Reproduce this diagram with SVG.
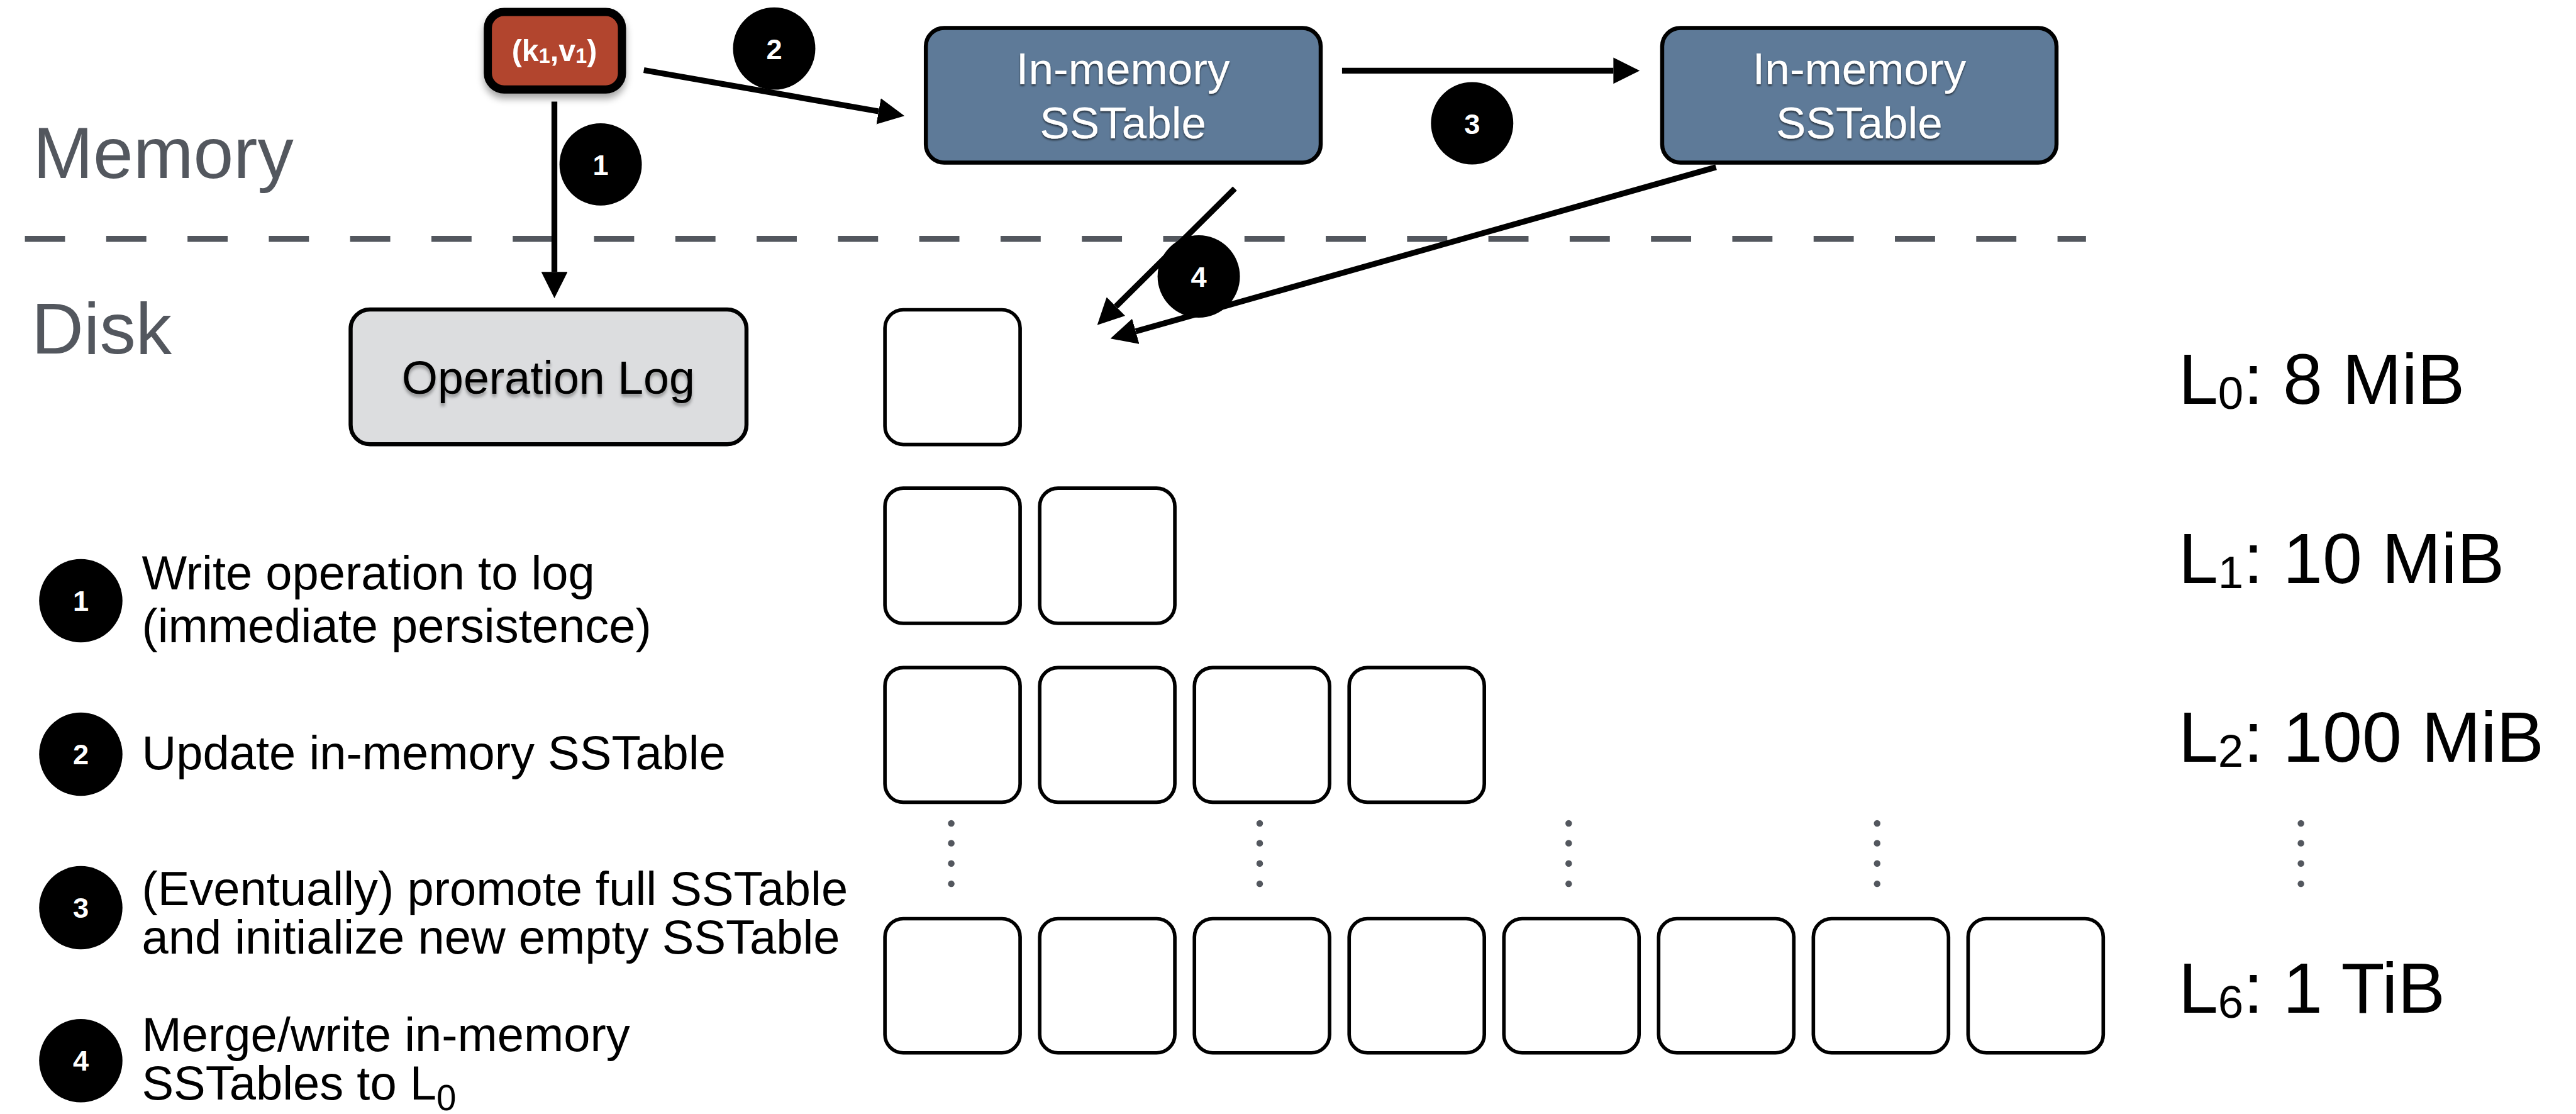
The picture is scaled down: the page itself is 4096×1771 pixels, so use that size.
<svg xmlns="http://www.w3.org/2000/svg" width="4096" height="1771" viewBox="0 0 4096 1771">
<defs>
<style>
text{font-family:"Liberation Sans",Arial,Helvetica,sans-serif}
.side{fill:#53575e;font-size:142px}
.leg{fill:#000;font-size:94px}
.lvl{fill:#000;font-size:140px}
.badge{fill:#000}
.num{fill:#fff;font-size:56px;font-weight:bold;text-anchor:middle}
.lbox{fill:#fff;stroke:#000;stroke-width:7}
.conn{stroke:#000;stroke-width:11.5;fill:none}
.dot{fill:#53575e}
.sst{fill:#5e7a98;stroke:#000;stroke-width:8}
.ssttxt{fill:#fff;font-size:88px;text-anchor:middle}
</style>
<marker id="ah" viewBox="0 0 10 10" refX="0" refY="5" markerWidth="4.5" markerHeight="4.5" markerUnits="strokeWidth" orient="auto">
<path d="M0,0 L10,5 L0,10 Z" fill="#000"/>
</marker>
<filter id="boxShadow" x="-20%" y="-20%" width="140%" height="160%">
<feDropShadow dx="0" dy="10" stdDeviation="7" flood-color="#000" flood-opacity="0.35"/>
</filter>
<filter id="txtShadowDark" x="-10%" y="-20%" width="120%" height="150%">
<feDropShadow dx="0" dy="3" stdDeviation="2" flood-color="#000" flood-opacity="0.6"/>
</filter>
<filter id="txtShadowGray" x="-10%" y="-20%" width="120%" height="150%">
<feDropShadow dx="0" dy="6" stdDeviation="3" flood-color="#000" flood-opacity="0.35"/>
</filter>
</defs>
<rect x="0" y="0" width="4096" height="1771" fill="#fff"/>
<g transform="scale(0.808)">

<g id="section-labels">
<text class="side" x="65" y="350">Memory</text>
<text class="side" x="62" y="696">Disk</text>
<line x1="49" y1="470" x2="4105" y2="470" stroke="#53575e" stroke-width="12" stroke-dasharray="79 81"/>
</g>

<g id="connectors">
<line class="conn" x1="1091" y1="200" x2="1091" y2="535" marker-end="url(#ah)"/>
<line class="conn" x1="1267" y1="138" x2="1729" y2="219" marker-end="url(#ah)"/>
<line class="conn" x1="2641" y1="139" x2="3175" y2="139" marker-end="url(#ah)"/>
<line class="conn" x1="2430" y1="371" x2="2196" y2="603" marker-end="url(#ah)"/>
<line class="conn" x1="3377" y1="329" x2="2235" y2="652" marker-end="url(#ah)"/>
</g>

<g id="node-kv">
<rect x="960" y="23.5" width="264" height="152.5" rx="32" fill="#b2452f" stroke="#000" stroke-width="16" filter="url(#boxShadow)"/>
<text x="1091" y="120" fill="#fff" font-size="60" font-weight="bold" text-anchor="middle">(k<tspan font-size="40" dy="4">1</tspan><tspan dy="-4">,v</tspan><tspan font-size="40" dy="4">1</tspan><tspan dy="-4">)</tspan></text>
</g>

<g id="node-sstable1">
<rect class="sst" x="1822" y="55" width="777" height="265" rx="36"/>
<text class="ssttxt" x="2210" y="166" filter="url(#txtShadowDark)">In-memory</text>
<text class="ssttxt" x="2210" y="272" filter="url(#txtShadowDark)">SSTable</text>
</g>

<g id="node-sstable2">
<rect class="sst" x="3271" y="55" width="776" height="265" rx="36"/>
<text class="ssttxt" x="3659" y="166" filter="url(#txtShadowDark)">In-memory</text>
<text class="ssttxt" x="3659" y="272" filter="url(#txtShadowDark)">SSTable</text>
</g>

<g id="node-oplog">
<rect x="690" y="609" width="779" height="265" rx="38" fill="#dcdddf" stroke="#000" stroke-width="8"/>
<text x="1079" y="775" fill="#000" font-size="91" text-anchor="middle" filter="url(#txtShadowGray)">Operation Log</text>
</g>

<g id="badge-1"><circle class="badge" cx="1182" cy="323.5" r="81"/><text class="num" x="1182" y="344">1</text></g>
<g id="badge-2"><circle class="badge" cx="1523.5" cy="95.5" r="81"/><text class="num" x="1523.5" y="116">2</text></g>
<g id="badge-3"><circle class="badge" cx="2897" cy="242.5" r="81"/><text class="num" x="2897" y="263">3</text></g>
<g id="badge-4"><circle class="badge" cx="2359" cy="544" r="81"/><text class="num" x="2359" y="564">4</text></g>

<g id="level-0">
<rect class="lbox" x="1741.5" y="609.5" width="266" height="265" rx="36"/>
</g>
<g id="level-1">
<rect class="lbox" x="1741.5" y="960.5" width="266" height="266" rx="36"/>
<rect class="lbox" x="2046" y="960.5" width="266" height="266" rx="36"/>
</g>
<g id="level-2">
<rect class="lbox" x="1741.5" y="1313.5" width="266" height="265" rx="36"/>
<rect class="lbox" x="2046" y="1313.5" width="266" height="265" rx="36"/>
<rect class="lbox" x="2350.5" y="1313.5" width="266" height="265" rx="36"/>
<rect class="lbox" x="2655" y="1313.5" width="266" height="265" rx="36"/>
</g>
<g id="level-dots">
<circle class="dot" cx="1872" cy="1620" r="6.5"/><circle class="dot" cx="1872" cy="1659" r="6.5"/><circle class="dot" cx="1872" cy="1699" r="6.5"/><circle class="dot" cx="1872" cy="1739" r="6.5"/>
<circle class="dot" cx="2479" cy="1620" r="6.5"/><circle class="dot" cx="2479" cy="1659" r="6.5"/><circle class="dot" cx="2479" cy="1699" r="6.5"/><circle class="dot" cx="2479" cy="1739" r="6.5"/>
<circle class="dot" cx="3087" cy="1620" r="6.5"/><circle class="dot" cx="3087" cy="1659" r="6.5"/><circle class="dot" cx="3087" cy="1699" r="6.5"/><circle class="dot" cx="3087" cy="1739" r="6.5"/>
<circle class="dot" cx="3694" cy="1620" r="6.5"/><circle class="dot" cx="3694" cy="1659" r="6.5"/><circle class="dot" cx="3694" cy="1699" r="6.5"/><circle class="dot" cx="3694" cy="1739" r="6.5"/>
<circle class="dot" cx="4528" cy="1620" r="6.5"/><circle class="dot" cx="4528" cy="1659" r="6.5"/><circle class="dot" cx="4528" cy="1699" r="6.5"/><circle class="dot" cx="4528" cy="1739" r="6.5"/>
</g>
<g id="level-6">
<rect class="lbox" x="1741.5" y="1807.5" width="266" height="264" rx="36"/>
<rect class="lbox" x="2046" y="1807.5" width="266" height="264" rx="36"/>
<rect class="lbox" x="2350.5" y="1807.5" width="266" height="264" rx="36"/>
<rect class="lbox" x="2655" y="1807.5" width="266" height="264" rx="36"/>
<rect class="lbox" x="2959.5" y="1807.5" width="266" height="264" rx="36"/>
<rect class="lbox" x="3264" y="1807.5" width="266" height="264" rx="36"/>
<rect class="lbox" x="3568.5" y="1807.5" width="266" height="264" rx="36"/>
<rect class="lbox" x="3873" y="1807.5" width="266" height="264" rx="36"/>
</g>

<g id="level-labels">
<text class="lvl" x="4287" y="794">L<tspan font-size="90" dy="10">0</tspan><tspan dy="-10">: 8 MiB</tspan></text>
<text class="lvl" x="4287" y="1147">L<tspan font-size="90" dy="10">1</tspan><tspan dy="-10">: 10 MiB</tspan></text>
<text class="lvl" x="4287" y="1499">L<tspan font-size="90" dy="10">2</tspan><tspan dy="-10">: 100 MiB</tspan></text>
<text class="lvl" x="4287" y="1992">L<tspan font-size="90" dy="10">6</tspan><tspan dy="-10">: 1 TiB</tspan></text>
</g>

<g id="legend-1"><circle class="badge" cx="159" cy="1182" r="82"/><text class="num" x="159" y="1202">1</text>
<text class="leg" x="279" y="1160">Write operation to log</text>
<text class="leg" x="279" y="1264">(immediate persistence)</text></g>
<g id="legend-2"><circle class="badge" cx="159" cy="1484" r="82"/><text class="num" x="159" y="1504">2</text>
<text class="leg" x="279" y="1514">Update in-memory SSTable</text></g>
<g id="legend-3"><circle class="badge" cx="159" cy="1786" r="82"/><text class="num" x="159" y="1806">3</text>
<text class="leg" x="279" y="1781">(Eventually) promote full SSTable</text>
<text class="leg" x="279" y="1876">and initialize new empty SSTable</text></g>
<g id="legend-4"><circle class="badge" cx="159" cy="2087" r="82"/><text class="num" x="159" y="2107">4</text>
<text class="leg" x="279" y="2068">Merge/write in-memory</text>
<text class="leg" x="279" y="2163">SSTables to L<tspan font-size="70" dy="21">0</tspan></text></g>

</g>
</svg>
